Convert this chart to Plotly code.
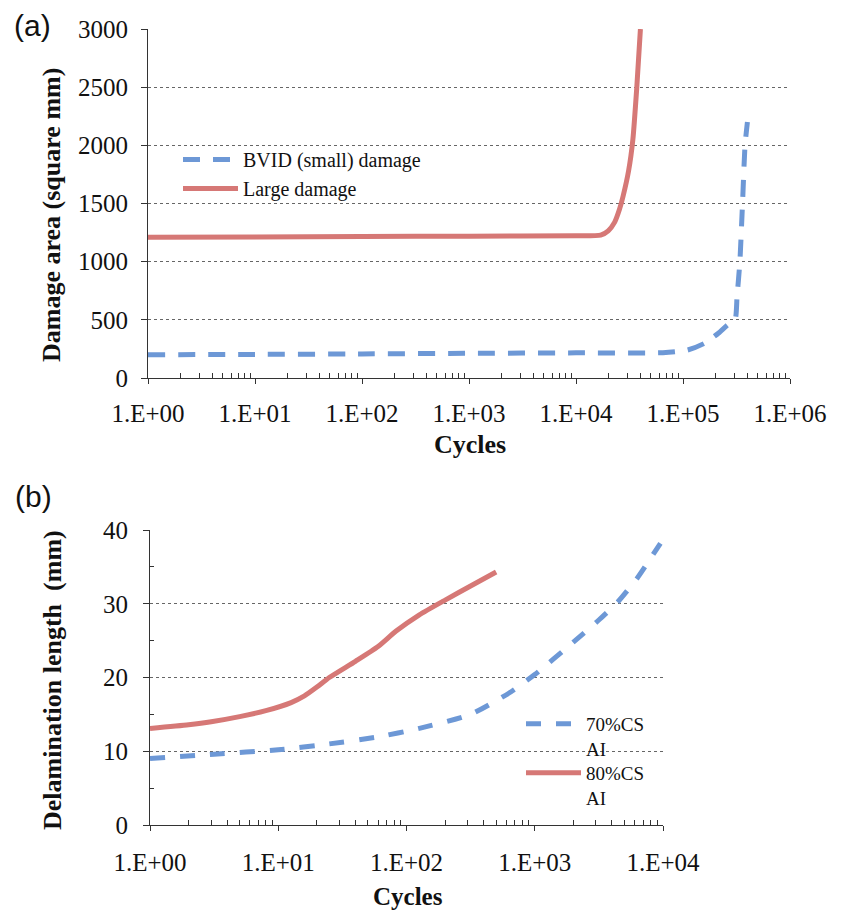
import plotly.graph_objects as go

W, H = 861, 913

# ---------------- Panel (a) data ----------------
a_large_x = [1, 10, 100, 1000, 1e4, 1.7e4, 2.0e4, 2.3e4, 2.55e4, 2.75e4, 3.1e4, 3.4e4, 3.7e4, 4.0e4]
a_large_y = [1210, 1213, 1216, 1219, 1222, 1228, 1265, 1340, 1450, 1560, 1780, 2050, 2500, 3000]
a_bvid_x = [1, 10, 100, 1000, 1e4, 6.5e4, 1.1e5, 1.6e5, 2.14e5, 2.6e5, 3.06e5, 3.2e5, 3.4e5, 3.6e5, 3.8e5, 4.0e5]
a_bvid_y = [200, 203, 207, 212, 216, 218, 240, 300, 385, 455, 500, 700, 1000, 1500, 2000, 2200]
a_xticks = [1, 10, 100, 1000, 1e4, 1e5, 1e6]
a_xticktext = ["1.E+00", "1.E+01", "1.E+02", "1.E+03", "1.E+04", "1.E+05", "1.E+06"]
a_yticks = [0, 500, 1000, 1500, 2000, 2500, 3000]

# ---------------- Panel (b) data ----------------
b_80_x = [1, 2, 3, 5, 8, 12.6, 16, 20, 25, 40, 60, 83, 126, 200, 316, 500]
b_80_y = [13.1, 13.6, 14.0, 14.7, 15.5, 16.6, 17.5, 18.7, 20.0, 22.2, 24.2, 26.3, 28.5, 30.5, 32.4, 34.3]
b_70_x = [1, 3.16, 10, 25, 58, 126, 316, 631, 1000, 2000, 3160, 4470, 6310, 9550]
b_70_y = [9.0, 9.6, 10.2, 11.0, 11.9, 13.1, 15.0, 17.9, 20.4, 24.8, 27.8, 30.3, 33.5, 38.2]
b_xticks = [1, 10, 100, 1000, 1e4]
b_xticktext = ["1.E+00", "1.E+01", "1.E+02", "1.E+03", "1.E+04"]
b_yticks = [0, 10, 20, 30, 40]

BLUE = "#6d98d6"
RED = "#d67876"
SERIF = "Liberation Serif"
SANS = "Liberation Sans"


def minor_log(maxdec):
    vals = []
    for d in range(maxdec):
        for m in range(2, 10):
            vals.append(m * 10 ** d)
    return vals


fig = go.Figure()

fig.add_trace(go.Scatter(x=a_bvid_x, y=a_bvid_y, mode="lines", name="BVID (small) damage",
                         line=dict(color=BLUE, width=5, dash="17px,13px", shape="spline", smoothing=0.6),
                         xaxis="x", yaxis="y", legend="legend"))
fig.add_trace(go.Scatter(x=a_large_x, y=a_large_y, mode="lines", name="Large damage",
                         line=dict(color=RED, width=5, shape="spline", smoothing=0.6),
                         xaxis="x", yaxis="y", legend="legend"))
fig.add_trace(go.Scatter(x=b_70_x, y=b_70_y, mode="lines", name="70%CS<br>AI",
                         line=dict(color=BLUE, width=5, dash="15px,15px", shape="spline", smoothing=0.6),
                         xaxis="x2", yaxis="y2", legend="legend2"))
fig.add_trace(go.Scatter(x=b_80_x, y=b_80_y, mode="lines", name="80%CS<br>AI",
                         line=dict(color=RED, width=5, shape="spline", smoothing=0.6),
                         xaxis="x2", yaxis="y2", legend="legend3"))

axis_common = dict(showline=True, linecolor="#333", linewidth=1, automargin=False,
                   tickfont=dict(family=SERIF, size=25, color="#111"), tickcolor="#333", zeroline=False)

leg_common = dict(xref="paper", yref="paper", xanchor="left", yanchor="top", itemwidth=55,
                  bgcolor="rgba(0,0,0,0)")

fig.update_layout(
    width=W, height=H,
    margin=dict(l=0, r=0, t=0, b=0, autoexpand=False),
    paper_bgcolor="white", plot_bgcolor="white",
    xaxis=dict(type="log", range=[0, 6], domain=[148 / W, 790 / W], anchor="y",
               tickmode="array", tickvals=a_xticks, ticktext=a_xticktext, tickangle=0,
               ticks="outside", ticklen=5, showgrid=False, ticklabelstandoff=8,
               minor=dict(tickmode="array", tickvals=minor_log(6), ticks="inside", ticklen=5,
                          tickcolor="#333", showgrid=False),
               **axis_common),
    yaxis=dict(range=[0, 3000], domain=[(H - 378) / H, (H - 29) / H], anchor="x",
               tickmode="array", tickvals=a_yticks, ticks="outside", ticklen=6,
               showgrid=True, gridcolor="#666", griddash="dot", gridwidth=1, ticklabelstandoff=8,
               **axis_common),
    xaxis2=dict(type="log", range=[0, 4], domain=[150 / W, 663 / W], anchor="y2",
                tickmode="array", tickvals=b_xticks, ticktext=b_xticktext, tickangle=0,
                ticks="outside", ticklen=5, showgrid=False, ticklabelstandoff=10,
                minor=dict(tickmode="array", tickvals=minor_log(4), ticks="inside", ticklen=5,
                           tickcolor="#333", showgrid=False),
                **axis_common),
    yaxis2=dict(range=[0, 40], domain=[(H - 825) / H, (H - 530) / H], anchor="x2",
                tickmode="array", tickvals=b_yticks, ticks="outside", ticklen=6,
                showgrid=True, gridcolor="#666", griddash="dot", gridwidth=1, ticklabelstandoff=10,
                minor=dict(tickmode="array", tickvals=[5, 15, 25, 35], ticks="inside", ticklen=4,
                           tickcolor="#333", showgrid=False),
                **axis_common),
    legend=dict(x=178 / W, y=1 - 140 / H, tracegroupgap=0,
                font=dict(family=SERIF, size=20, color="#111"), **leg_common),
    legend2=dict(x=521 / W, y=1 - 705 / H, valign="top",
                 font=dict(family=SERIF, size=19, color="#111"), **leg_common),
    legend3=dict(x=521 / W, y=1 - 754 / H, valign="top",
                 font=dict(family=SERIF, size=19, color="#111"), **leg_common),
    showlegend=True,
)

ann_common = dict(xref="paper", yref="paper", showarrow=False, xanchor="center", yanchor="middle")
annotations = [
    dict(text="(a)", x=32 / W, y=1 - 26 / H, font=dict(family=SANS, size=30, color="#111"), **ann_common),
    dict(text="(b)", x=33 / W, y=1 - 496 / H, font=dict(family=SANS, size=30, color="#111"), **ann_common),
    dict(text="Damage area (square mm)", x=52 / W, y=1 - 215 / H, textangle=-90,
         font=dict(family=SERIF, size=26, color="#111", weight="bold"), **ann_common),
    dict(text="Cycles", x=470 / W, y=1 - 444 / H,
         font=dict(family=SERIF, size=26, color="#111", weight="bold"), **ann_common),
    dict(text="Delamination length  (mm)", x=52 / W, y=1 - 680 / H, textangle=-90,
         font=dict(family=SERIF, size=26, color="#111", weight="bold"), **ann_common),
    dict(text="Cycles", x=408 / W, y=1 - 896 / H,
         font=dict(family=SERIF, size=25, color="#111", weight="bold"), **ann_common),
]
fig.update_layout(annotations=annotations)

fig.write_html("out.html")
